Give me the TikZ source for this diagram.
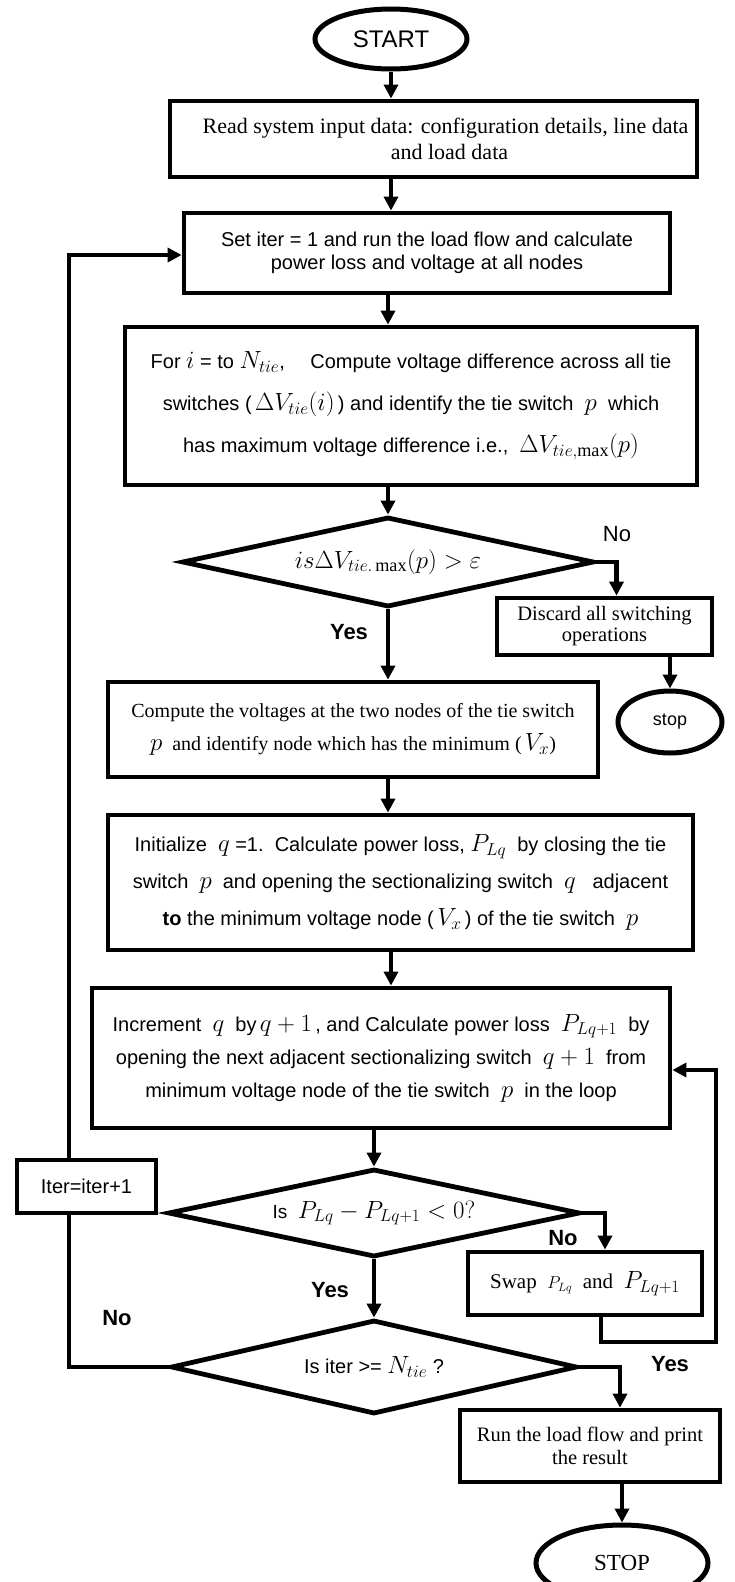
\documentclass[tikz,border=0pt]{standalone}
\usepackage{fontspec}
\setmainfont{Liberation Serif}
\setsansfont{Liberation Sans}
\usetikzlibrary{shapes.geometric,arrows.meta}
\newcommand\Mb[1]{{\fontsize{26}{26}\selectfont$#1$}}
\newcommand\Md[1]{{\fontsize{24}{24}\selectfont$#1$}}
\newcommand\Ms[1]{{\fontsize{17}{17}\selectfont$#1$}}
\begin{document}
\begin{tikzpicture}[x=1pt,y=-1pt,
  box/.style={draw,line width=4.8pt,rectangle,inner sep=2pt,align=center},
  dia/.style={draw,line width=4.8pt,diamond,aspect=4.5,inner sep=0pt,align=center},
  term/.style={draw,line width=5pt,ellipse,inner sep=0pt},
  arr/.style={line width=4.5pt,-{Triangle[length=14pt,width=14pt]}},
  conn/.style={line width=4.5pt},
  lbl/.style={font=\sffamily\bfseries\fontsize{22}{22}\selectfont,inner sep=0pt},
]
\path[use as bounding box] (0,0) rectangle (735,1582);
\clip (0,0) rectangle (735,1582);

\node[term,minimum width=152pt,minimum height=60pt,font=\sffamily\fontsize{24}{24}\selectfont] (start) at (391,39) {START};

\node[box,minimum width=527pt,minimum height=76pt,font=\rmfamily\fontsize{22}{26}\selectfont] (b1) at (433.5,139)
  {\hspace*{12pt}Read system input data: configuration details, line data\hspace*{-12pt}\\\hspace*{16pt}and load data\hspace*{-16pt}};

\node[box,minimum width=486pt,minimum height=80pt,font=\sffamily\fontsize{20}{23}\selectfont] (b2) at (427,253)
  {Set iter = 1 and run the load flow and calculate\\power loss and voltage at all nodes};

\node[box,minimum width=572pt,minimum height=158pt,font=\sffamily\fontsize{20}{42}\selectfont] (b3) at (411,406)
  {For \Mb{i} = to \Mb{N_{tie}}, \quad Compute voltage difference across all tie\\
   switches (\,\Mb{\Delta V_{tie}(i)}\,) and identify the tie switch \ \Mb{p} \ which\\
   has maximum voltage difference i.e., \ \Mb{\Delta V_{tie,\max}(p)}};

\node[dia,minimum width=412pt,minimum height=90pt] (d1) at (388,562)
  {\fontsize{26}{26}\selectfont$is\Delta V_{tie.\max}(p) > \varepsilon$};

\node[box,minimum width=215pt,minimum height=57pt,inner sep=1pt,font=\rmfamily\fontsize{20.5}{21}\selectfont] (dc) at (604.5,626.5)
  {Discard all switching\\operations};

\node[term,minimum width=104pt,minimum height=62pt,font=\sffamily\fontsize{18}{18}\selectfont] (stp) at (670,722) {stop};

\node[box,minimum width=490pt,minimum height=95pt,font=\rmfamily\fontsize{20}{33}\selectfont] (b4) at (353,729.5)
  {Compute the voltages at the two nodes of the tie switch\\
   \Mb{p} \ and identify node which has the minimum (\,\Mb{V_x})};

\node[box,minimum width=585pt,minimum height=135pt,font=\sffamily\fontsize{20}{37}\selectfont] (b5) at (400.5,882.5)
  {Initialize \ \Mb{q} =1.\ \ Calculate power loss, \Mb{P_{Lq}} \ by closing the tie\\
   switch \ \Mb{p} \ and opening the sectionalizing switch \ \Mb{q} \ \ adjacent\\
   \textbf{to} the minimum voltage node (\,\Mb{V_x}\,) of the tie switch \ \Mb{p}};

\node[box,minimum width=578pt,minimum height=140pt,font=\sffamily\fontsize{20}{33}\selectfont] (b6) at (381,1058)
  {Increment \ \Mb{q} \ by\,\Mb{q+1}\,, and Calculate power loss \ \Mb{P_{Lq+1}} \ by\\
   opening the next adjacent sectionalizing switch \ \Mb{q+1} \ from\\
   minimum voltage node of the tie switch \ \Mb{p} \ in the loop};

\node[box,minimum width=139pt,minimum height=53pt,font=\sffamily\fontsize{20}{20}\selectfont] (it) at (86.5,1186.5) {Iter=iter+1};

\node[dia,minimum width=412pt,minimum height=88pt] (d2) at (374,1213)
  {\sffamily\fontsize{19}{19}\selectfont Is \ \Md{P_{Lq} - P_{Lq+1} < 0?}};

\node[box,minimum width=234pt,minimum height=63pt,font=\rmfamily\fontsize{21}{21}\selectfont] (sw) at (585,1283.5)
  {Swap \ \Ms{P_{Lq}} \ and \ \Mb{P_{Lq+1}}};

\node[dia,minimum width=406pt,minimum height=94pt] (d3) at (374,1367)
  {\sffamily\fontsize{20}{20}\selectfont Is iter >= \Mb{N_{tie}} ?};

\node[box,minimum width=260pt,minimum height=72pt,font=\rmfamily\fontsize{20.5}{23}\selectfont] (run) at (590,1446)
  {Run the load flow and print\\the result};

\node[term,minimum width=172pt,minimum height=76pt,font=\rmfamily\fontsize{23}{23}\selectfont] (sp) at (622,1563) {STOP};

\coordinate (lp1) at (716,1342);

\draw[arr] (start.south) -- (start.south |- b1.north);
\draw[arr] (start.south |- b1.south) -- (start.south |- b2.north);
\draw[arr] (d1.north |- b2.south) -- (d1.north |- b3.north);
\draw[arr] (d1.north |- b3.south) -- (d1.north);
\draw[arr] (d1.south) -- (d1.south |- b4.north);
\draw[arr] (d1.east) -| ([xshift=12pt]dc.north);
\draw[arr] (stp.north |- dc.south) -- (stp.north);
\draw[arr] (d1.south |- b4.south) -- (d1.south |- b5.north);
\draw[arr] (start.south |- b5.south) -- (start.south |- b6.north);
\draw[arr] (d2.north |- b6.south) -- (d2.north);
\draw[arr] (d2.east) -| ([xshift=20pt]sw.north);
\draw[arr] ([xshift=16pt]sw.south) |- (lp1) |- ([yshift=-12pt]b6.east);
\draw[arr] (d2.south) -- (d3.north);
\draw[arr] (d3.east) -| ([xshift=30pt]run.north);
\draw[arr] (sp.north |- run.south) -- (sp.north);
\draw[conn] (d3.west) -| ([xshift=-17.5pt]it.south);
\draw[arr] ([xshift=-17.5pt]it.north) |- ([yshift=-2pt]b2.west);

\node[font=\sffamily\fontsize{22}{22}\selectfont,inner sep=0pt] (no1) at (617,534) {No};
\node[lbl] (yes1) at (349,632) {Yes};
\node[lbl] (no2) at (563,1238) {No};
\node[lbl] (yes2) at (330,1290) {Yes};
\node[lbl] (no3) at (117,1318) {No};
\node[lbl] (yes3) at (670,1364) {Yes};
\end{tikzpicture}
\end{document}
